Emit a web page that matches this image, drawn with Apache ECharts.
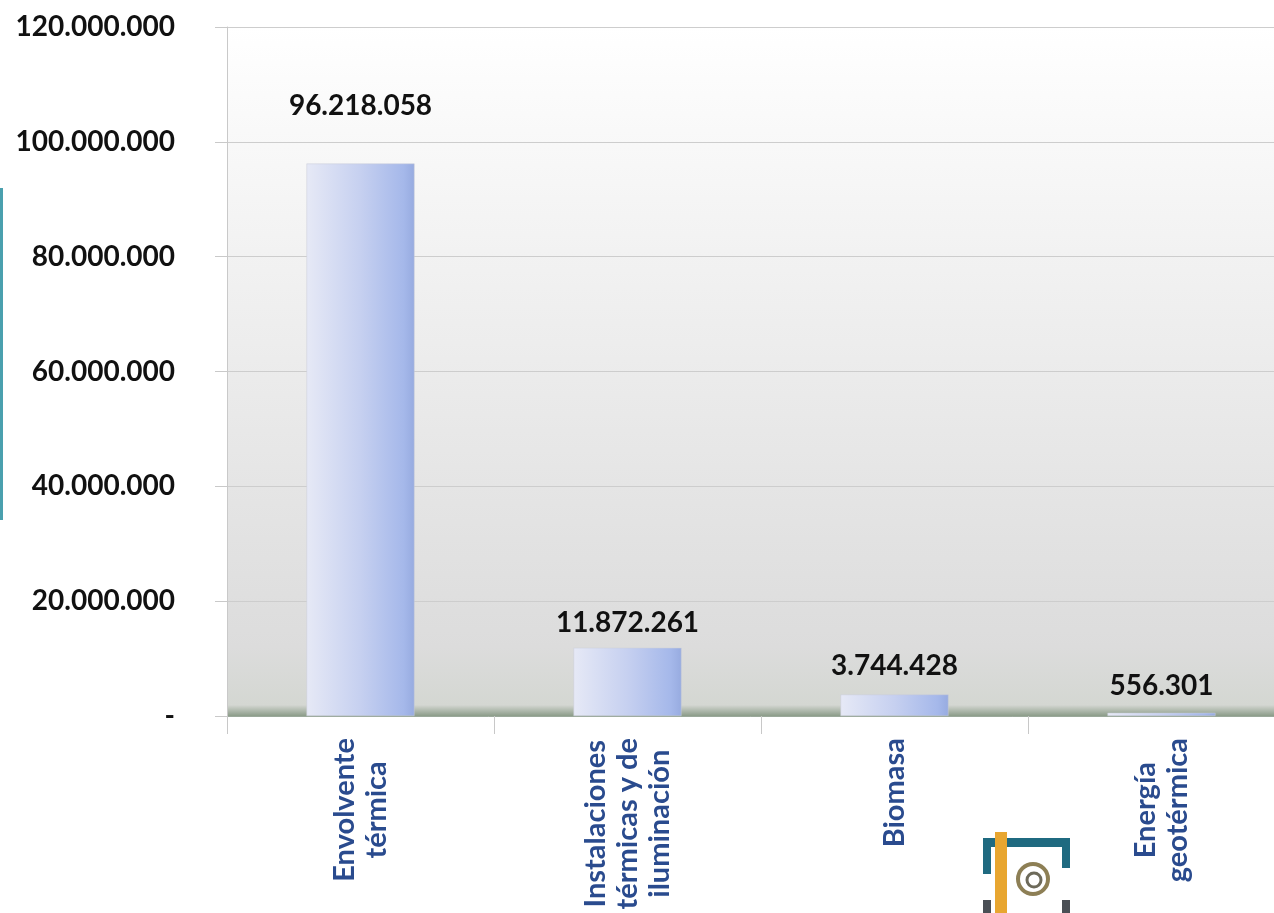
<!DOCTYPE html>
<html>
<head>
<meta charset="utf-8">
<script src="https://cdn.jsdelivr.net/npm/echarts@6/dist/echarts.min.js"></script>
<style>
html,body{margin:0;padding:0;background:#fff;}
#chart{width:1274px;height:913px;}
</style>
</head>
<body>
<div id="chart"></div>
<script>
var categories = ['Envolvente\ntérmica', 'Instalaciones\ntérmicas y de\niluminación', 'Biomasa', 'Energía\ngeotérmica'];
var values = [96218058, 11872261, 3744428, 556301];
var yTicks = [0, 20000000, 40000000, 60000000, 80000000, 100000000, 120000000];
var labelGap = [44, 11, 15, 13];

function fmt(v) {
  if (v === 0) return '-';
  return String(Math.round(v)).replace(/\B(?=(\d{3})+(?!\d))/g, '.');
}

var chart = echarts.init(document.getElementById('chart'));
var FONT = 'Lato';

var option = {
  animation: false,
  backgroundColor: '#ffffff',
  grid: {
    left: 227, width: 1068, top: 27, height: 689,
    outerBoundsMode: 'none',
    containLabel: false,
    show: true,
    borderWidth: 0,
    backgroundColor: {
      type: 'linear', x: 0, y: 0, x2: 0, y2: 1,
      colorStops: [
        {offset: 0, color: '#ffffff'},
        {offset: 0.3, color: '#f3f3f3'},
        {offset: 0.9, color: '#dcdcdc'},
        {offset: 0.984, color: '#d4d7d2'},
        {offset: 1, color: '#8c9c89'}
      ]
    }
  },
  xAxis: {
    type: 'category',
    data: categories,
    axisLine: {show: true, lineStyle: {color: '#9aa89a', width: 1}},
    axisTick: {show: true, length: 18, lineStyle: {color: '#c8c8c8'}},
    axisLabel: {
      rotate: 90,
      margin: 22,
      interval: 0,
      hideOverlap: false,
      formatter: function (v) {
        return v.split('\n').map(function (s) { return '{c|' + s + '}'; }).join('\n');
      },
      rich: {
        c: {align: 'center', color: '#2a4b8e', fontFamily: FONT, fontWeight: 'bold', fontSize: 29, lineHeight: 32}
      }
    }
  },
  yAxis: {
    type: 'value',
    min: 0, max: 120000000, interval: 20000000,
    axisLine: {show: true, lineStyle: {color: '#c9c9c9'}},
    axisTick: {show: true, length: 12, lineStyle: {color: '#c9c9c9'}},
    splitLine: {show: true, lineStyle: {color: '#cdcdcd', width: 1}},
    axisLabel: {
      margin: 52,
      color: '#111111',
      fontFamily: FONT,
      fontWeight: 'bold',
      fontSize: 28,
      formatter: function (v) { return yTicks.indexOf(v) >= 0 ? fmt(v) : ''; }
    }
  },
  series: [{
    type: 'bar',
    barWidth: 108,
    data: values.map(function (v, i) {
      return {value: v, label: {distance: labelGap[i]}};
    }),
    itemStyle: {
      color: {
        type: 'linear', x: 0, y: 0, x2: 1, y2: 0,
        colorStops: [
          {offset: 0, color: '#e6e9f6'},
          {offset: 0.5, color: '#c6d0f0'},
          {offset: 0.9, color: '#a5b8ea'},
          {offset: 1, color: '#97abe0'}
        ]
      },
      borderColor: '#c9ccd6',
      borderWidth: 0.5
    },
    label: {
      show: true,
      position: 'top',
      color: '#111111',
      fontFamily: FONT,
      fontWeight: 'bold',
      fontSize: 28,
      formatter: function (p) { return fmt(p.value); }
    }
  }],
  graphic: [
    {type: 'rect', left: 0, top: 188, shape: {width: 3, height: 332}, style: {fill: '#4aa0ae'}},
    {type: 'group', left: 983, top: 832, children: [
      {type: 'rect', shape: {x: 0, y: 6, width: 87, height: 9}, style: {fill: '#1f6a80'}},
      {type: 'rect', shape: {x: 0, y: 6, width: 8, height: 36}, style: {fill: '#1f6a80'}},
      {type: 'rect', shape: {x: 79, y: 6, width: 8, height: 30}, style: {fill: '#1f6a80'}},
      {type: 'rect', shape: {x: 0, y: 68, width: 8, height: 13}, style: {fill: '#4a4f55'}},
      {type: 'rect', shape: {x: 79, y: 68, width: 8, height: 13}, style: {fill: '#4a4f55'}},
      {type: 'rect', shape: {x: 12, y: 0, width: 12, height: 81}, style: {fill: '#e8a630'}},
      {type: 'circle', shape: {cx: 50, cy: 47, r: 15}, style: {fill: 'none', stroke: '#8d7f55', lineWidth: 4}},
      {type: 'circle', shape: {cx: 51, cy: 48, r: 7}, style: {fill: 'none', stroke: '#6d6a5a', lineWidth: 3}}
    ]}
  ]
};
chart.setOption(option);
</script>
</body>
</html>
